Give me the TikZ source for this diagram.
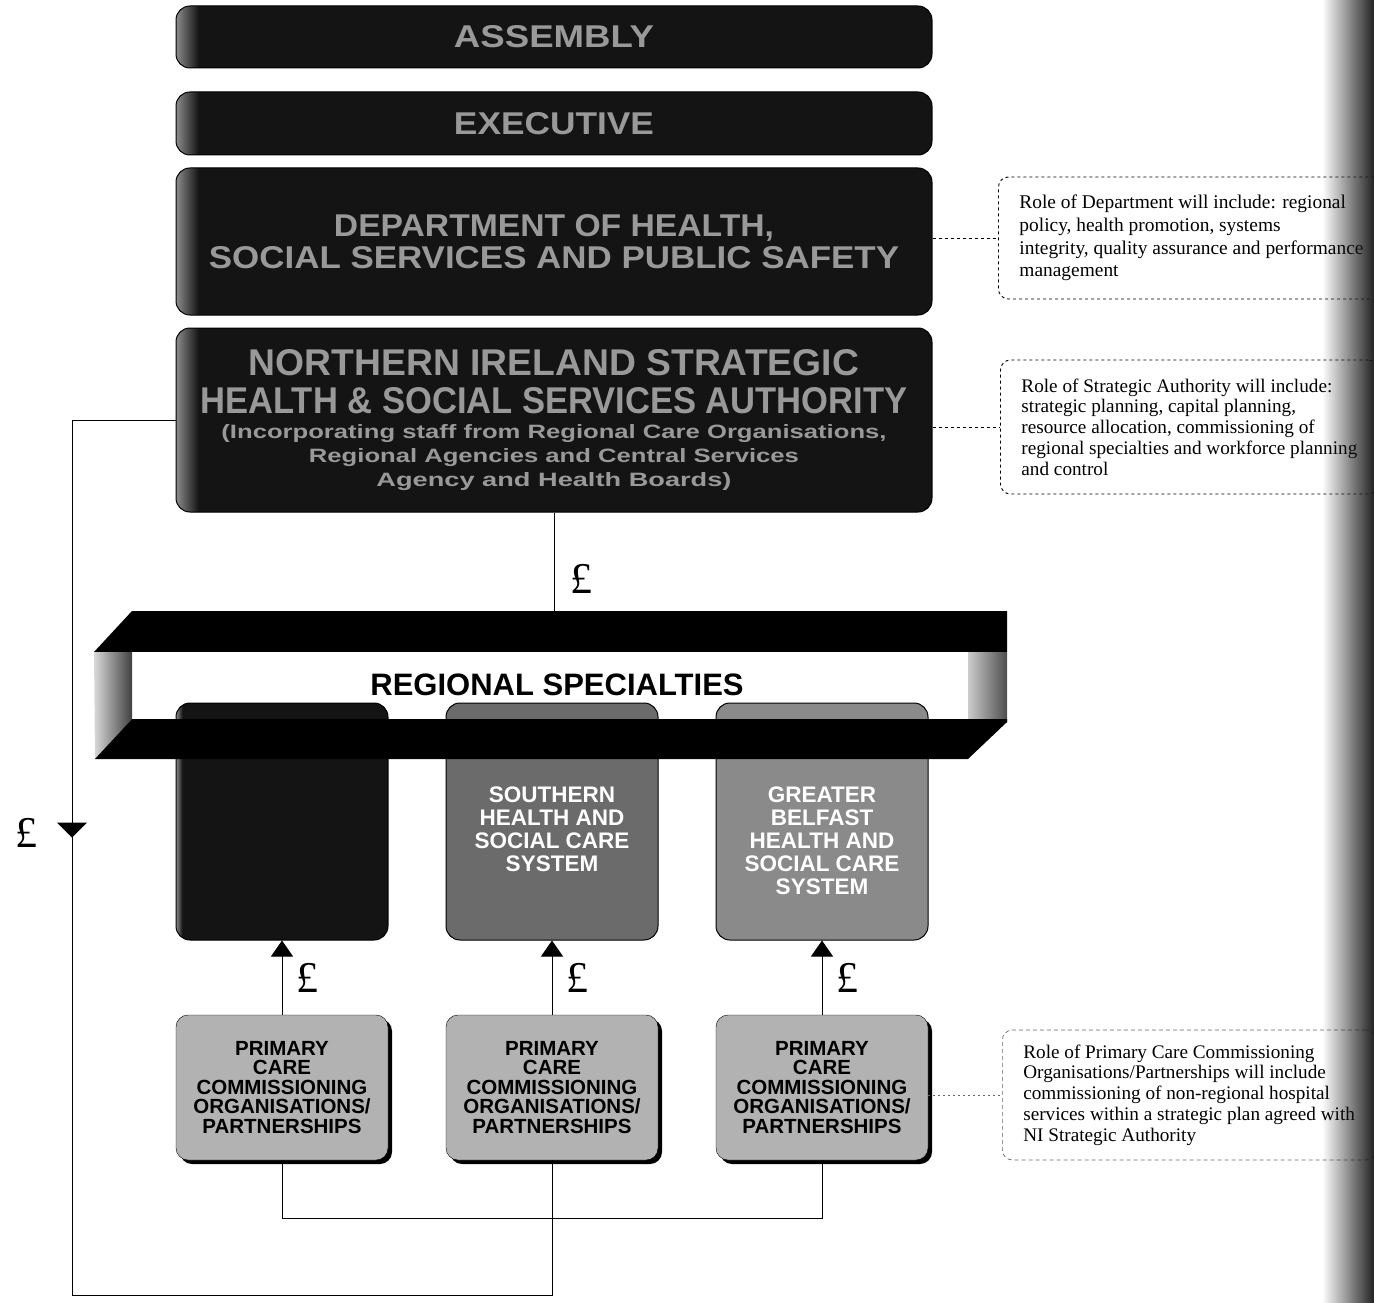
\documentclass[tikz,border=0pt]{standalone}
\usepackage{fontspec}
\setmainfont{Liberation Serif}
\setsansfont{Liberation Sans}
\usepackage{graphicx}
\usetikzlibrary{positioning,shadows,arrows.meta,decorations.markings,fadings}

\pgfdeclarehorizontalshading{darkedge}{100bp}{color(0bp)=(black!45); color(25bp)=(black!45); color(26.5bp)=(black!92); color(100bp)=(black!92)}

\newcommand{\sqz}[3]{\resizebox{#1pt}{#2pt}{\sffamily\bfseries #3}}

\begin{document}
\begin{tikzpicture}[x=1pt, y=-1pt,
                topblock/.style={rectangle, rounded corners=14pt, draw=black, line width=1pt, shading=darkedge, minimum width=756pt, align=center, text=black!40, inner sep=0pt},
                sysblock/.style={rectangle, rounded corners=14pt, draw=black, line width=1pt, minimum width=212pt, minimum height=237pt},
                systext/.style={align=center, text=white, inner sep=0pt, font=\sffamily\bfseries\fontsize{22.5}{23}\selectfont},
                pcblock/.style={rectangle, rounded corners=12pt, draw=black, fill=black!30, minimum width=212pt, minimum height=145pt, align=center, inner sep=0pt, font=\sffamily\bfseries\fontsize{20.5}{19.5}\selectfont, drop shadow={shadow xshift=4pt, shadow yshift=-4pt, fill=black, opacity=1}},
                role/.style={draw, dashed, line width=0.9pt, rounded corners=10pt, align=left, inner xsep=21pt, anchor=west, font=\fontsize{19.2}{20.7}\selectfont},
                link/.style={line width=1pt},
                uparrow/.style={link, -{Triangle[width=22pt, length=16pt]}},
                pound/.style={inner sep=0pt, font=\fontsize{44}{44}\selectfont},
                auto
            ]

            \useasboundingbox (0,0) rectangle (1374,1303);

            %top blocks
            \node[topblock, minimum height=62pt]    (assembly)  at (554,37)    {\sqz{200}{22}{ASSEMBLY}};
            \node[topblock, minimum height=63pt]    (executive) at (554,123.5) {\sqz{200}{22}{EXECUTIVE}};
            \node[topblock, minimum height=147pt]   (dept)      at (554,241.5)
                {\sqz{440}{22}{DEPARTMENT OF HEALTH,}\\[3.5pt]\sqz{690}{22}{SOCIAL SERVICES AND PUBLIC SAFETY}};
            \node[topblock, minimum height=184pt]   (nisa)      at (554,420)
                {\sqz{610}{26}{NORTHERN IRELAND STRATEGIC}\\[11pt]
                 \sqz{707}{26}{HEALTH \& SOCIAL SERVICES AUTHORITY}\\[9pt]
                 \sqz{665}{14}{(Incorporating staff from Regional Care Organisations,}\\[5pt]
                 \sqz{490}{14}{Regional Agencies and Central Services}\\[5pt]
                 \sqz{355}{14}{Agency and Health Boards)}};

            %regional specialties bar
            \coordinate (bartop) at (554,611);
            \fill[black] (94,652) -- (132,611) -- (1007,611) -- (1007,652) -- cycle;
            \fill[white] (132,652) rectangle (968,719);
            \shade[left color=black!15, right color=black!75] (94,652) -- (132,652) -- (132,719) -- (95,759) -- cycle;
            \shade[left color=black!20, right color=black!70] (968,652) rectangle (1007,722);
            \node[inner sep=0pt, font=\sffamily\bfseries\fontsize{31}{31}\selectfont] (regspec) at (557,685) {REGIONAL SPECIALTIES};

            %systems
            \node[sysblock, shading=darkedge]   (sys1)  at (282,821.5) {};
            \node[sysblock, fill=black!58]      (sys2)  at (552,821.5) {};
            \node[sysblock, fill=black!46]      (sys3)  at (822,821.5) {};
            \node[systext] (sys2text) [below=84pt of sys2.north] {SOUTHERN\\HEALTH AND\\SOCIAL CARE\\SYSTEM};
            \node[systext] (sys3text) [below=84pt of sys3.north] {GREATER\\BELFAST\\HEALTH AND\\SOCIAL CARE\\SYSTEM};
            \fill[black] (95,759) -- (132,719) -- (1007,719) -- (1007,722) -- (968,759) -- cycle;

            %primary care
            \node[pcblock] (pc1) at (282,1087.5) {PRIMARY\\CARE\\COMMISSIONING\\ORGANISATIONS/\\PARTNERSHIPS};
            \node[pcblock] (pc2) at (552,1087.5) {PRIMARY\\CARE\\COMMISSIONING\\ORGANISATIONS/\\PARTNERSHIPS};
            \node[pcblock] (pc3) at (822,1087.5) {PRIMARY\\CARE\\COMMISSIONING\\ORGANISATIONS/\\PARTNERSHIPS};

            %money arrows
            \draw[link]     (nisa.south) -- (bartop) node[pound, pos=0.67, right=16pt] {£};
            \draw[uparrow]  (pc1.north) -- (sys1.south) node[pound, midway, right=14pt] {£};
            \draw[uparrow]  (pc2.north) -- (sys2.south) node[pound, midway, right=14pt] {£};
            \draw[uparrow]  (pc3.north) -- (sys3.south) node[pound, midway, right=14pt] {£};

            %loop back to primary care
            \coordinate (lcorner) at (72,420);
            \coordinate (lbottom) at (72,1295);
            \coordinate (pcjoin)  at (552,1218);
            \draw[link] (pc1.south) |- (pcjoin) -| (pc3.south);
            \draw[link] (pc2.south) -- (pcjoin);
            \draw[link, postaction={decorate},
                  decoration={markings, mark=at position 521pt with {\arrow{Triangle[width=30pt, length=15pt]}}}]
                (nisa.west) -- (lcorner) -- (lbottom) -| (pcjoin);
            \node[pound] (leftpound) at (26,833) {£};

            %roles
            \node[role, minimum height=122pt, font=\fontsize{19.4}{22.7}\selectfont] (deptrole) at (998,238)
                {Role of Department will include: regional\\policy, health promotion, systems\\integrity, quality assurance and performance\\management};
            \node[role, minimum height=134pt] (nisarole) at (1000,427)
                {Role of Strategic Authority will include:\\strategic planning, capital planning,\\resource allocation, commissioning of\\regional specialties and workforce planning\\and control};
            \node[role, minimum height=130pt, draw=black!60, line width=0.7pt, dash pattern=on 4pt off 3pt] (pcrole) at (1002,1095)
                {Role of Primary Care Commissioning\\Organisations/Partnerships will include\\commissioning of non-regional hospital\\services within a strategic plan agreed with\\NI Strategic Authority};
            \draw[dashed, line width=0.9pt]                          (dept.east |- deptrole.west) -- (deptrole.west);
            \draw[dash pattern=on 3pt off 3pt, line width=0.6pt]     (nisa.east |- nisarole.west) -- (nisarole.west);
            \draw[dash pattern=on 2pt off 3pt, black!60, line width=0.6pt] (pc3.east |- pcrole.west) -- (pcrole.west);

            %scanned edge
            \fill[black!90, path fading=west] (1322,-2) rectangle (1376,1305);

            \end{tikzpicture}
\end{document}
